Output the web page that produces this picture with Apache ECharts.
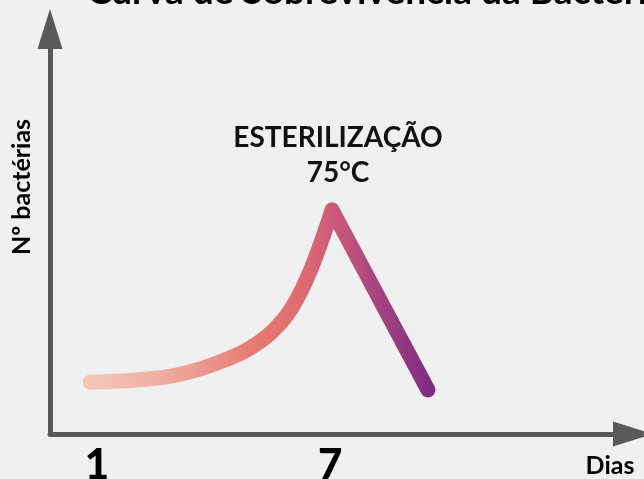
<!DOCTYPE html>
<html>
<head>
<meta charset="utf-8">
<script src="https://cdn.jsdelivr.net/npm/echarts@6/dist/echarts.min.js"></script>
<style>
  html, body { margin: 0; padding: 0; background: #eff0ef; }
  #chart { width: 644px; height: 479px; }
</style>
</head>
<body>
<div id="chart"></div>
<script>
// curva de crescimento (dias, nº bactérias em unidades relativas)
const growthDays = [0.82, 1.5, 2.2, 2.9, 3.6, 4.3, 4.9, 5.5, 6.0, 6.5, 7.05]
const growthCounts = [12.8, 13.0, 13.5, 14.3, 15.9, 18.3, 21.0, 25.2, 30.9, 40.5, 55.3]
// queda após esterilização
const declineDays = [7.05, 9.52]
const declineCounts = [55.3, 10.9]
// rótulos do eixo x
const tickDays = [1, 7]

const FONT = 'Lato'
const AXIS_COLOR = '#58595b'

const chart = echarts.init(document.getElementById('chart'))

// gradiente contínuo nas duas partes da curva
const curveColor = {
  type: 'linear',
  x: 83, y: 0, x2: 436, y2: 0,
  global: true,
  colorStops: [
    { offset: 0, color: '#f4c8b8' },
    { offset: 0.2, color: '#efb1a4' },
    { offset: 0.5, color: '#e6796f' },
    { offset: 0.64, color: '#dd6772' },
    { offset: 0.71, color: '#cc5a7a' },
    { offset: 0.85, color: '#a2417f' },
    { offset: 1, color: '#7b2a84' },
  ],
}

const lineStyle = {
  width: 15,
  color: curveColor,
  cap: 'round',
  join: 'round',
}

const option = {
  backgroundColor: '#eff0ef',
  animation: false,
  title: {
    text: 'Curva de Sobrevivência da Bactéria',
    left: 82,
    top: -31,
    textStyle: { fontFamily: FONT, fontSize: 37, fontWeight: 'bold', color: '#000' },
  },
  grid: {
    left: 50,
    right: 11,
    top: 29,
    bottom: 45,
    outerBoundsMode: 'none',
  },
  xAxis: {
    type: 'value',
    min: -0.211,
    max: 14.8,
    axisLine: {
      show: true,
      onZero: false,
      symbol: ['none', 'triangle'],
      symbolSize: [25, 40],
      lineStyle: { color: AXIS_COLOR, width: 5 },
    },
    axisTick: { show: false },
    splitLine: { show: false },
    axisLabel: {
      customValues: tickDays,
      margin: 10,
      fontFamily: FONT,
      fontSize: 42,
      fontWeight: 900,
      color: '#000',
    },
  },
  yAxis: {
    type: 'value',
    min: 0,
    max: 100,
    axisLine: {
      show: true,
      onZero: false,
      symbol: ['none', 'triangle'],
      symbolSize: [25, 40],
      lineStyle: { color: AXIS_COLOR, width: 5 },
    },
    axisTick: { show: false },
    splitLine: { show: false },
    axisLabel: { show: false },
  },
  graphic: [
    {
      type: 'text',
      x: 22,
      y: 187,
      rotation: Math.PI / 2,
      style: {
        text: 'Nº bactérias',
        fontFamily: FONT,
        fontSize: 25,
        fontWeight: 'bold',
        fill: '#000',
        align: 'center',
        verticalAlign: 'middle',
      },
    },
    {
      type: 'text',
      x: 610,
      y: 466,
      style: {
        text: 'Dias',
        fontFamily: FONT,
        fontSize: 25,
        fontWeight: 'bold',
        fill: '#000',
        align: 'center',
        verticalAlign: 'middle',
      },
    },
    {
      type: 'text',
      x: 338,
      y: 155,
      style: {
        text: 'ESTERILIZAÇÃO\n75°C',
        fontFamily: FONT,
        fontSize: 28,
        fontWeight: 'bold',
        lineHeight: 35,
        fill: '#111',
        align: 'center',
        verticalAlign: 'middle',
      },
    },
  ],
  series: [
    {
      name: 'crescimento',
      type: 'line',
      smooth: 0.35,
      symbol: 'none',
      silent: true,
      data: growthDays.map((d, i) => [d, growthCounts[i]]),
      lineStyle,
    },
    {
      name: 'esterilização',
      type: 'line',
      symbol: 'none',
      silent: true,
      data: declineDays.map((d, i) => [d, declineCounts[i]]),
      lineStyle,
    },
  ],
}

chart.setOption(option)
</script>
</body>
</html>
